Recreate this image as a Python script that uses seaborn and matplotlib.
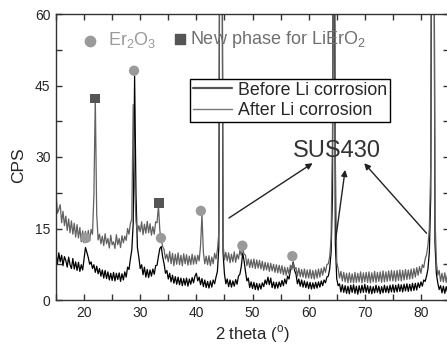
import numpy as np
import seaborn as sns
import matplotlib.pyplot as plt
from matplotlib.lines import Line2D
from matplotlib.ticker import MultipleLocator

sns.set_theme(style="ticks")
plt.rcParams['font.family'] = ['Liberation Sans', 'DejaVu Sans']
plt.rcParams['mathtext.fontset'] = 'custom'
plt.rcParams['mathtext.rm'] = 'Liberation Sans'

# scan grid, 0.25 deg steps
two_theta = np.linspace(15, 85, 281)

# Before Li corrosion (lower, black)
cps_before = [
    9.8, 7.6, 9.9, 8.0, 9.4, 7.2, 9.1, 8.3, 6.9, 9.0, 7.4, 6.6, 8.7, 6.5, 8.0, 6.2, 7.9, 6.0, 7.4, 6.3,
    8.6, 11.0, 10.0, 8.9, 7.5, 8.0, 6.6, 7.4, 5.8, 7.1, 5.5, 6.6, 5.0, 6.3, 4.6, 6.2, 4.5, 5.9, 4.2, 5.6,
    4.1, 5.8, 4.0, 5.6, 4.3, 5.7, 3.9, 5.5, 4.2, 5.9, 4.8, 6.9, 6.4, 8.6, 10.5, 16.0, 47.0, 22.0, 11.0, 9.0,
    6.6, 7.4, 5.3, 6.9, 4.8, 6.4, 4.7, 6.3, 5.0, 6.5, 5.4, 7.2, 7.3, 9.2, 10.8, 11.2, 9.0, 7.6, 5.6, 6.2,
    4.4, 5.6, 3.8, 5.2, 3.5, 4.9, 3.3, 4.8, 3.2, 4.6, 3.0, 4.5, 3.1, 4.6, 2.9, 4.4, 3.3, 4.7, 3.6, 5.0,
    5.6, 4.0, 4.8, 3.2, 4.5, 2.8, 4.2, 2.6, 3.9, 2.5, 4.0, 2.7, 4.2, 3.4, 4.8, 6.0, 11.0, 120, 120, 10.0,
    5.5, 3.4, 4.4, 2.8, 4.2, 2.7, 4.0, 2.9, 4.3, 3.3, 5.0, 5.4, 7.0, 9.8, 8.2, 6.0, 4.0, 4.6, 2.6, 3.8,
    2.4, 3.7, 2.2, 3.5, 2.1, 3.4, 2.3, 3.6, 2.8, 4.2, 3.3, 4.8, 3.2, 4.6, 2.6, 3.8, 2.4, 3.7, 2.5, 3.8,
    2.8, 4.1, 3.0, 4.4, 3.4, 5.0, 4.4, 6.2, 6.8, 8.0, 6.2, 5.4, 3.4, 4.4, 2.9, 4.2, 2.7, 4.0, 2.6, 3.8,
    2.4, 3.7, 2.3, 3.6, 2.4, 3.7, 2.5, 3.8, 2.7, 4.0, 3.0, 4.2, 3.6, 4.8, 5.0, 6.5, 10.0, 22.0, 120, 12.0,
    4.5, 3.0, 3.4, 1.7, 3.2, 1.6, 3.0, 1.4, 2.9, 1.3, 3.1, 1.6, 3.2, 1.4, 2.9, 1.2, 3.0, 1.5, 3.1, 1.6,
    3.3, 1.6, 3.0, 1.4, 2.9, 1.3, 2.8, 1.5, 3.1, 1.6, 2.9, 1.3, 2.8, 1.5, 3.1, 1.6, 2.9, 1.5, 3.1, 1.7,
    3.2, 1.6, 3.1, 1.7, 3.3, 1.8, 3.2, 1.7, 3.3, 1.9, 3.4, 1.8, 3.3, 1.9, 3.5, 2.0, 3.5, 2.1, 3.6, 2.6,
    3.8, 2.9, 4.2, 3.9, 5.0, 6.5, 10.0, 22.0, 120, 120, 12.0, 5.5, 3.6, 2.2, 3.0, 1.5, 2.9, 1.4, 2.8, 1.6,
    2.6,
]

# After Li corrosion (upper, grey)
cps_after = [
    22.5, 18.2, 19.0, 20.0, 16.2, 18.6, 15.6, 17.6, 14.6, 17.0, 14.1, 16.6, 13.8, 16.1, 13.2, 15.8, 13.0, 15.2, 12.2, 14.5,
    12.0, 14.4, 12.1, 14.6, 12.4, 14.8, 13.8, 22.0, 42.5, 18.0, 12.6, 13.8, 11.8, 13.4, 11.4, 13.9, 11.8, 12.9, 10.9, 13.6,
    11.6, 12.2, 10.8, 13.7, 11.6, 12.9, 11.0, 13.5, 12.0, 13.4, 12.5, 15.0, 13.8, 16.0, 17.0, 41.0, 24.0, 16.5, 14.2, 15.6,
    14.3, 16.4, 13.7, 15.9, 14.0, 16.5, 14.1, 16.0, 13.6, 15.4, 13.8, 16.4, 16.2, 19.8, 14.5, 12.6, 11.2, 10.6, 8.6, 9.6,
    8.0, 10.2, 7.6, 9.8, 7.2, 9.6, 7.5, 9.9, 7.4, 9.4, 7.2, 9.7, 7.6, 9.5, 7.3, 9.2, 7.4, 9.6, 7.5, 9.3,
    7.6, 9.4, 8.2, 11.5, 18.0, 10.0, 7.6, 9.2, 7.4, 9.3, 7.2, 9.0, 7.6, 9.8, 8.6, 10.5, 14.0, 120, 120, 12.0,
    8.4, 10.0, 8.2, 9.9, 7.8, 9.6, 8.0, 10.1, 7.9, 9.6, 8.6, 10.4, 9.4, 11.0, 9.6, 9.4, 7.2, 8.6, 6.8, 8.5,
    6.8, 8.6, 6.6, 8.4, 6.7, 8.3, 6.5, 8.1, 6.2, 7.9, 6.3, 7.8, 6.0, 7.7, 6.1, 7.5, 5.8, 7.4, 5.7, 7.3,
    5.6, 7.2, 5.3, 6.9, 5.2, 6.8, 5.4, 7.3, 6.4, 7.8, 6.5, 6.8, 5.0, 6.7, 4.9, 6.4, 4.8, 6.5, 4.6, 6.3,
    4.6, 6.4, 4.5, 6.2, 4.4, 6.3, 4.6, 6.5, 4.8, 6.6, 5.2, 6.9, 5.8, 7.4, 7.6, 9.0, 13.0, 35.0, 120, 30.0,
    8.0, 6.6, 4.6, 6.0, 4.0, 5.8, 3.8, 5.6, 3.6, 5.7, 3.7, 5.5, 3.6, 5.8, 3.7, 5.6, 3.8, 5.9, 3.6, 5.7,
    3.8, 5.8, 3.7, 5.9, 3.6, 5.7, 3.8, 6.0, 3.7, 5.8, 3.9, 5.9, 3.7, 6.1, 3.8, 5.9, 3.9, 6.1, 4.0, 6.2,
    4.0, 6.1, 3.9, 6.2, 4.1, 6.3, 4.0, 6.2, 4.2, 6.4, 4.3, 6.3, 4.4, 6.5, 4.5, 6.6, 4.8, 6.8, 5.2, 7.0,
    5.6, 7.4, 6.8, 8.6, 9.5, 11.5, 15.0, 28.0, 120, 120, 18.0, 8.0, 5.2, 6.2, 3.9, 5.6, 3.8, 5.7, 3.7, 5.5,
    4.5,
]
assert len(cps_before) == len(two_theta) and len(cps_after) == len(two_theta)

# peak markers
er2o3_x = [20.3, 28.9, 33.7, 40.8, 48.2, 57.1]
er2o3_y = [13.0, 48.1, 13.0, 18.7, 11.4, 9.2]
lieroo_x = [22.0, 33.3]
lieroo_y = [42.3, 20.3]

# arrows to the SUS430 peaks: (start, end)
sus_arrows = [((45.8, 17.2), (60.7, 28.7)),
              ((64.8, 12.6), (66.5, 27.3)),
              ((81.0, 14.0), (69.9, 28.7))]

fig = plt.figure(figsize=(4.47, 3.45), dpi=100)
ax = fig.add_axes([56 / 447, 45 / 345, 393 / 447, 286 / 345])

sns.lineplot(x=two_theta, y=cps_before, color="black", lw=0.9,
             estimator=None, sort=False, ax=ax, legend=False)
sns.lineplot(x=two_theta, y=cps_after, color="#616161", lw=0.9,
             estimator=None, sort=False, ax=ax, legend=False)

sns.scatterplot(x=er2o3_x, y=er2o3_y, color="#9a9a9a", s=55, marker="o",
                edgecolor="none", ax=ax, zorder=5, legend=False)
sns.scatterplot(x=lieroo_x, y=lieroo_y, color="#555555", s=48, marker="s",
                edgecolor="none", ax=ax, zorder=5, legend=False)

# marker keys at the top
ax.scatter([21.0], [54.4], s=55, marker="o", color="#9a9a9a", zorder=5)
ax.text(24.2, 54.6, "Er$_2$O$_3$", fontsize=13, color="#9a9a9a", va="center")
ax.scatter([37.1], [54.8], s=48, marker="s", color="#555555", zorder=5)
ax.text(38.8, 54.6, "New phase for LiErO$_2$", fontsize=13, color="#707070", va="center")

ax.text(65.1, 31.2, "SUS430", fontsize=17, color="#333333", ha="center", va="center")
for start, end in sus_arrows:
    ax.annotate("", xy=end, xytext=start,
                arrowprops=dict(arrowstyle="-|>", color="#222222", lw=1.0,
                                mutation_scale=9, shrinkA=0, shrinkB=0))

handles = [Line2D([], [], color="#555555", lw=1.6),
           Line2D([], [], color="#777777", lw=1.0)]
leg = ax.legend(handles, ["Before Li corrosion", "After Li corrosion"],
                loc="upper left", bbox_to_anchor=(0.341, 0.773), borderaxespad=0,
                fontsize=12.8, frameon=True, fancybox=False, framealpha=1,
                edgecolor="black", borderpad=0.15, labelspacing=0.2,
                handlelength=2.2, handletextpad=0.35)
leg.get_frame().set_linewidth(1.0)
leg.set_zorder(6)

ax.set_xlim(15, 85)
ax.set_ylim(0, 60)
ax.xaxis.set_major_locator(MultipleLocator(10))
ax.xaxis.set_minor_locator(MultipleLocator(5))
ax.yaxis.set_major_locator(MultipleLocator(15))
ax.yaxis.set_minor_locator(MultipleLocator(7.5))
ax.tick_params(which="both", direction="in", top=True, right=True,
               length=4, width=1, color="#333333", labelsize=10, pad=4)
for sp in ax.spines.values():
    sp.set_color("#333333")
    sp.set_linewidth(1.0)

ax.set_xlabel("2 theta ($^\\mathrm{o}$)", fontsize=12)
ax.set_ylabel("CPS", fontsize=12.5)
ax.xaxis.set_label_coords(0.5, -0.08)
ax.yaxis.set_label_coords(-0.075, 0.47)

fig.savefig("out.png", dpi=100)
